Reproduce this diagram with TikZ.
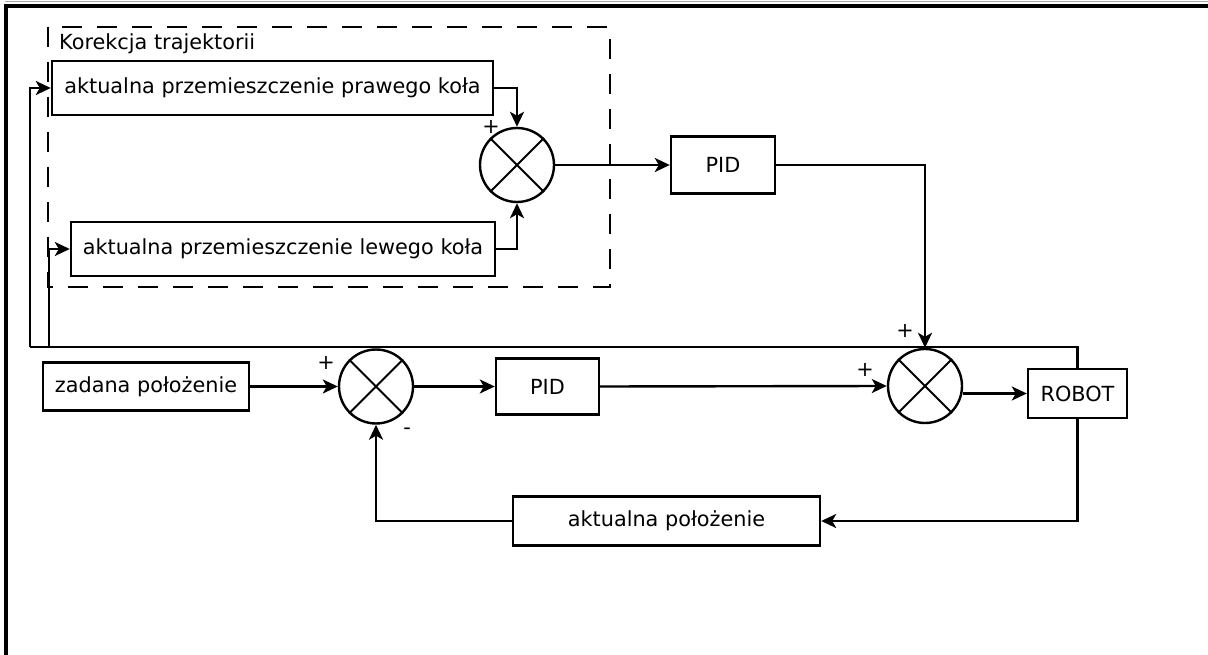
\documentclass[tikz,border=0pt]{standalone}
\usepackage{fontspec}
\setmainfont{DejaVu Sans}
\usetikzlibrary{arrows.meta}
\begin{document}
\begin{tikzpicture}[x=1pt,y=-1pt,
  line width=2.4pt,
  txt/.style={font=\fontsize{20.8}{24}\selectfont},
  blk/.style={draw, rectangle, inner sep=0pt, txt},
  sumc/.style={draw, circle, minimum size=74pt, inner sep=0pt},
  lbl/.style={inner sep=0pt, txt},
  arr/.style={-{Stealth[length=15pt,width=14pt,inset=4pt]}},
  grp/.style={dash pattern=on 20pt off 15pt}
]
\useasboundingbox (0,0) rectangle (1208,655);
% frame
\draw[gray!70, line width=1.4pt] (5,1.5) -- (1208,1.5);
\draw[line width=3.2pt] (1208,6) -- (6,6) -- (6,655);
% group
\draw[grp] (48,27) rectangle (610,287);
\node[lbl, anchor=base west] (grlabel) at (58,50) {Korekcja trajektorii};
% blocks
\node[blk, minimum width=441pt, minimum height=54pt] (b1) at (272.5,88) {aktualna przemieszczenie prawego koła};
\node[blk, minimum width=424pt, minimum height=54pt] (b2) at (283,249) {aktualna przemieszczenie lewego koła};
\node[sumc] (s1) at (517,165) {};
\node[blk, minimum width=104pt, minimum height=57pt] (p1) at (723,165) {PID};
\node[blk, minimum width=206pt, minimum height=48pt] (z) at (146,386.5) {zadana położenie};
\node[sumc] (s3) at (376,386.5) {};
\node[blk, minimum width=103pt, minimum height=56pt] (p2) at (547.5,386.5) {PID};
\node[sumc] (s2) at (925,386) {};
\node[blk, minimum width=99pt, minimum height=49pt] (r) at (1077.5,393.5) {ROBOT};
\node[blk, minimum width=307pt, minimum height=49pt] (a) at (666.5,521) {aktualna położenie};
% crosses
\foreach \s in {s1,s2,s3}{
  \draw[line width=2pt] (\s.north west) -- (\s.south east) (\s.north east) -- (\s.south west);
}
% signs
\node[lbl] (sg1) at (491,127) {+};
\node[lbl] (sg2) at (905,331) {+};
\node[lbl] (sg3) at (865,370) {+};
\node[lbl] (sg4) at (326,363) {+};
\node[lbl] (sg5) at (407,431) {-};
% connectors
\draw[arr] (b1.east) -| (s1.north);
\draw[arr] (b2.east) -| (s1.south);
\draw[arr] (s1.east) -- (p1.west);
\draw[arr] (p1.east) -| (s2.north);
\draw[arr] (z.east) -- (s3.west);
\draw[arr] (s3.east) -- (p2.west);
\draw[arr] (p2.east) -- (s2.west);
\draw[arr] (s2.east |- r.west) -- (r.west);
\draw[arr] (r.south) |- (a.east);
\draw[arr] (a.west) -| (s3.south);
\coordinate (c1) at (30,347);
\coordinate (c2) at (49,347);
\draw (r.north) |- (c1);
\draw[arr] (c1) |- (b1.west);
\draw[arr] (c2) |- (b2.west);
\end{tikzpicture}
\end{document}
